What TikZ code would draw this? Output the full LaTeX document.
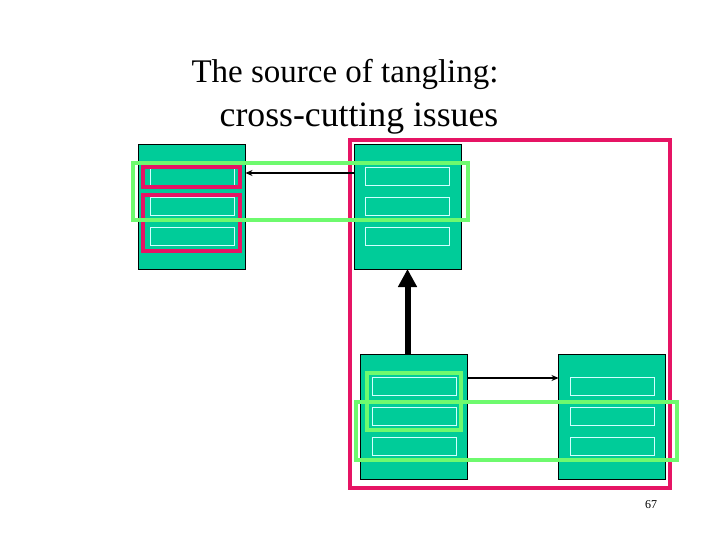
\documentclass[tikz,border=0pt]{standalone}
\usepackage{fontspec}
\setmainfont{Liberation Serif}
\usetikzlibrary{arrows.meta}
\definecolor{teal1}{RGB}{0,204,153}
\definecolor{crim}{RGB}{230,20,100}
\definecolor{lgreen}{RGB}{110,250,110}
\definecolor{pale}{RGB}{210,255,255}
\tikzset{
  classbox/.style={draw=black,line width=0.8pt,fill=teal1,minimum width=107pt,minimum height=125pt,inner sep=0pt,outer sep=0pt},
  slot/.style={draw=pale,line width=0.8pt,minimum width=84pt,minimum height=18pt,inner sep=0pt,outer sep=0pt},
  redhl/.style={draw=crim,line width=4pt},
  greenhl/.style={draw=lgreen,line width=4pt},
  thinarrow/.style={draw=black,line width=1.5pt,-{Stealth[length=7pt,width=6pt]}},
  thickarrow/.style={draw=black,line width=6pt,-{Triangle[length=18pt,width=18pt]}},
  titletext/.style={inner sep=0pt,anchor=base}
}
\begin{document}
\begin{tikzpicture}[x=1pt,y=-1pt]
\useasboundingbox (0,0) rectangle (720,540);
% title
\node[titletext,font=\fontsize{33}{38}\selectfont] (t1) at (345,83) {The source of tangling:};
\node[titletext,font=\fontsize{35.7}{40}\selectfont] (t2) at (359,127) {cross-cutting issues};
% class boxes
\node[classbox] (A) at (192,206.5) {};
\node[classbox] (B) at (407.5,206.5) {};
\node[classbox] (C) at (414,416.5) {};
\node[classbox] (D) at (612,416.5) {};
\foreach \b in {A,B,C,D}{
  \node[slot] (\b1) at ([yshift=30pt]\b.center) {};
  \node[slot] (\b2) at ([yshift=0pt]\b.center) {};
  \node[slot] (\b3) at ([yshift=-30pt]\b.center) {};
}
% big red frame
\draw[redhl] (350,140) rectangle (670,488);
% small red frames
\draw[redhl] (143,167) rectangle (240,187);
\draw[redhl] (143,195) rectangle (240,251);
% green frames
\draw[greenhl] (133,163) rectangle (468,220);
\draw[greenhl] (367,373) rectangle (461,430);
\draw[greenhl] (356,402) rectangle (677,460);
% connectors
\draw[thinarrow] ([yshift=33.5pt]B.west) -- ([yshift=33.5pt]A.east);
\draw[thinarrow] ([yshift=38.5pt]C.east) -- ([yshift=38.5pt]D.west);
\draw[thickarrow] (C.north -| B.south) -- (B.south);
% page number
\node[font=\fontsize{12}{14}\selectfont,inner sep=0pt,anchor=base] (pg) at (651,508) {67};
\end{tikzpicture}
\end{document}
